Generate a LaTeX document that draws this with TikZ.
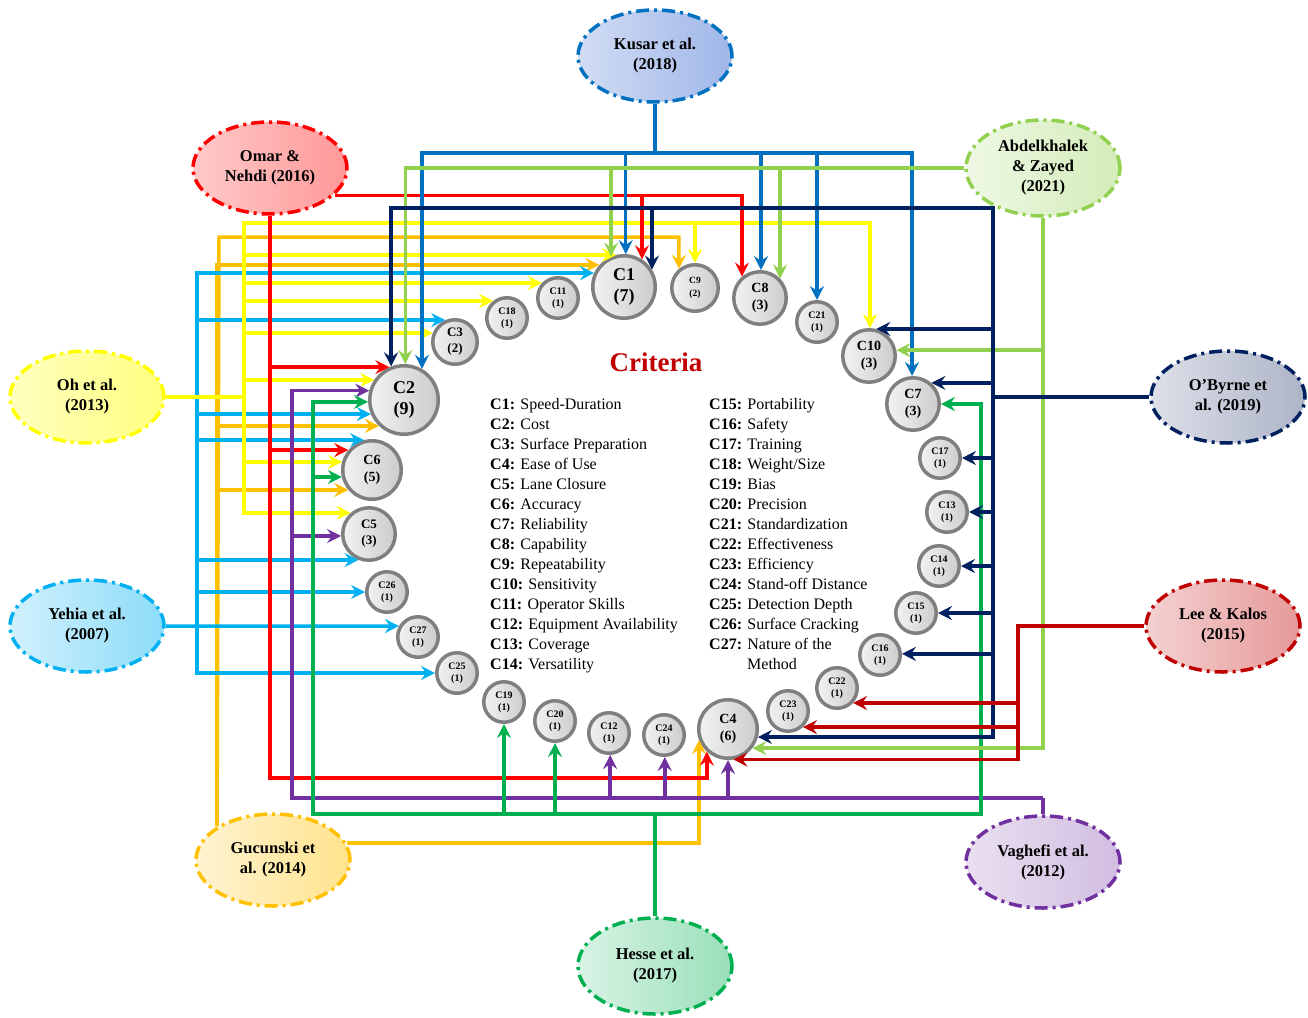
\documentclass[tikz,border=0pt]{standalone}
\usepackage{fontspec}
\setmainfont{Liberation Serif}
\usetikzlibrary{shapes.geometric,arrows.meta}
\definecolor{cOmar}{HTML}{FF0000}
\definecolor{cLee}{HTML}{C00000}
\definecolor{cKus}{HTML}{0070C0}
\definecolor{cYeh}{HTML}{00B0F0}
\definecolor{cOB}{HTML}{002060}
\definecolor{cAbd}{HTML}{92D050}
\definecolor{cHes}{HTML}{00B050}
\definecolor{cOh}{HTML}{FFFF00}
\definecolor{cGuc}{HTML}{FFC000}
\definecolor{cVag}{HTML}{7030A0}
\definecolor{cCrit}{HTML}{C00000}
\definecolor{cRing}{HTML}{7F7F7F}
\definecolor{fKusA}{HTML}{D2DDF4}
\definecolor{fKusB}{HTML}{9FB6E8}
\definecolor{fOBA}{HTML}{DDE0E9}
\definecolor{fOBB}{HTML}{AEB4C7}
\definecolor{fOmA}{HTML}{FFCACA}
\definecolor{fOmB}{HTML}{FF9898}
\begin{document}
\begin{tikzpicture}[x=1pt, y=-1pt,
  ln/.style={line width=3.5pt},
  ar/.style={ln, -{Stealth[length=14pt,width=14pt,inset=5pt]}},
  lowtext/.style={execute at begin node={\rule{0pt}{1.1em}}},
  refn/.style={ellipse, minimum width=154pt, minimum height=92pt, inner sep=0pt,
    line width=3.5pt, dash pattern=on 13pt off 5pt on 3pt off 5pt, align=center,
    font=\fontsize{16.5}{20}\selectfont\bfseries, lowtext},
  crit/.style={circle, draw=cRing, line width=3.5pt, left color=black!5, right color=black!20,
    inner sep=0pt, align=center, lowtext},
  sm/.style={crit, minimum size=40.5pt, font=\fontsize{10}{12.5}\selectfont\bfseries},
  md/.style={crit, minimum size=52.5pt, font=\fontsize{14}{17}\selectfont\bfseries},
  lg/.style={crit, minimum size=58.5pt, font=\fontsize{14}{17}\selectfont\bfseries},
  xl/.style={crit, font=\fontsize{18}{21}\selectfont\bfseries},
  leg/.style={inner sep=0pt, anchor=base west, font=\fontsize{16}{20}\selectfont},
  omarA/.style={ar, draw=cOmar},
  leeA/.style={ar, draw=cLee},
  kusA/.style={ar, draw=cKus},
  yehA/.style={ar, draw=cYeh},
  obA/.style={ar, draw=cOB},
  abdA/.style={ar, draw=cAbd},
  hesA/.style={ar, draw=cHes},
  ohA/.style={ar, draw=cOh},
  gucA/.style={ar, draw=cGuc},
  vagA/.style={ar, draw=cVag}
]
\fill[white] (0,0) rectangle (1308,1017);
\useasboundingbox (0,0) rectangle (1308,1017);

% reference ellipses
\node[refn, draw=cKus, left color=fKusA, right color=fKusB] (kusar) at (655,56) {Kusar et al.\\(2018)};
\node[refn, draw=cOmar, left color=fOmA, right color=fOmB] (omar) at (270,168) {Omar \&\\Nehdi (2016)};
\node[refn, draw=cAbd, minimum height=96pt, left color=cAbd!15!white, right color=cAbd!40!white] (abd) at (1043,168) {Abdelkhalek\\\& Zayed\\(2021)};
\node[refn, draw=cOh, left color=yellow!25!white, right color=yellow!50!white] (oh) at (87,397) {Oh et al.\\(2013)};
\node[refn, draw=cOB, left color=fOBA, right color=fOBB] (obyrne) at (1228,397) {O’Byrne et\\al. (2019)};
\node[refn, draw=cYeh, left color=cYeh!18!white, right color=cYeh!45!white] (yehia) at (87,626) {Yehia et al.\\(2007)};
\node[refn, draw=cLee, left color=cLee!18!white, right color=cLee!40!white] (lee) at (1223,626) {Lee \& Kalos\\(2015)};
\node[refn, draw=cGuc, left color=cGuc!18!white, right color=cGuc!45!white] (guc) at (273,860) {Gucunski et\\al. (2014)};
\node[refn, draw=cHes, minimum height=96pt, left color=cHes!15!white, right color=cHes!40!white] (hesse) at (655,966) {Hesse et al.\\(2017)};
\node[refn, draw=cVag, left color=cVag!15!white, right color=cVag!32!white] (vag) at (1043,862) {Vaghefi et al.\\(2012)};

% criteria circles
\node[xl, minimum size=62.5pt] (C1) at (624,287) {C1\\(7)};
\node[xl, minimum size=68.5pt] (C2) at (404,400) {C2\\(9)};
\node[crit, minimum size=44.5pt, font=\fontsize{13}{16}\selectfont\bfseries] (C3) at (455,342) {C3\\(2)};
\node[lg] (C4) at (728,729) {C4\\(6)};
\node[md, font=\fontsize{13}{16}\selectfont\bfseries] (C5) at (369,534) {C5\\(3)};
\node[lg] (C6) at (372,470) {C6\\(5)};
\node[md] (C7) at (913,404) {C7\\(3)};
\node[md] (C8) at (760,298) {C8\\(3)};
\node[crit, minimum size=46.5pt, font=\fontsize{9.5}{12.5}\selectfont\bfseries] (C9) at (695,288) {C9\\(2)};
\node[md] (C10) at (869,356) {C10\\(3)};
\node[sm] (C11) at (558,298) {C11\\(1)};
\node[sm] (C12) at (609,733) {C12\\(1)};
\node[sm] (C13) at (947,512) {C13\\(1)};
\node[sm] (C14) at (939,566) {C14\\(1)};
\node[sm] (C15) at (916,613) {C15\\(1)};
\node[sm] (C16) at (880,655) {C16\\(1)};
\node[sm] (C17) at (940,458) {C17\\(1)};
\node[sm] (C18) at (507,318) {C18\\(1)};
\node[sm] (C19) at (504,702) {C19\\(1)};
\node[sm] (C20) at (555,721) {C20\\(1)};
\node[sm] (C21) at (817,322) {C21\\(1)};
\node[sm] (C22) at (837,688) {C22\\(1)};
\node[sm] (C23) at (788,711) {C23\\(1)};
\node[sm] (C24) at (664,735) {C24\\(1)};
\node[sm] (C25) at (457,673) {C25\\(1)};
\node[sm] (C26) at (387,592) {C26\\(1)};
\node[sm] (C27) at (418,637) {C27\\(1)};

% title and legend
\node[font=\fontsize{27}{30}\selectfont\bfseries, text=cCrit] (title) at (656,362) {Criteria};
\foreach \a/\b [count=\i] in {C1/Speed-Duration, C2/Cost, C3/Surface Preparation, C4/Ease of Use,
  C5/Lane Closure, C6/Accuracy, C7/Reliability, C8/Capability, C9/Repeatability, C10/Sensitivity,
  C11/Operator Skills, C12/Equipment Availability, C13/Coverage, C14/Versatility}
  \node[leg] (L\i) at (490,{409+20*(\i-1)}) {\textbf{\a:} \b};
\foreach \a/\b [count=\i] in {C15/Portability, C16/Safety, C17/Training, C18/{Weight/Size},
  C19/Bias, C20/Precision, C21/Standardization, C22/Effectiveness, C23/Efficiency,
  C24/Stand-off Distance, C25/Detection Depth, C26/Surface Cracking, C27/Nature of the}
  \node[leg] (R\i) at (709,{409+20*(\i-1)}) {\textbf{\a:} \b};
\node[leg] (R14) at (747,669) {Method};

% junction coordinates
\coordinate (kj) at (655,153);
\coordinate (oj) at (993,397);
\coordinate (ot) at (993,208);
\coordinate (hj) at (244,397);
\coordinate (ht) at (244,223);
\coordinate (gt) at (219,237);
\coordinate (yj) at (197,626);
\coordinate (ob) at (270,778);
\coordinate (hsj) at (655,814);
\coordinate (hsl) at (313,814);
\coordinate (hsr) at (981,814);
\coordinate (vj) at (1043,798);
\coordinate (vl) at (292,798);
\coordinate (lj) at (1018,626);

% Gucunski (orange)
\draw[gucA] (guc.149) -- (gt) -| (C9.130);
\draw[gucA] (guc.149) |- (C1.138);
\draw[gucA] (guc.149) |- (C2.226);
\draw[gucA] (guc.149) |- (C6.220);
\draw[gucA] (guc.13) -| (C4.-159);

% Yehia (light blue)
\draw[yehA] (yehia.east) -- (C27.150);
\draw[yehA] (yj) |- (C1.155);
\draw[yehA] (yj) |- (C3.114);
\draw[yehA] (yj) |- (C2.203);
\draw[yehA] (yj) |- (C6.105);
\draw[yehA] (yj) |- (C5.248);
\draw[yehA] (yj) |- (C26.180);
\draw[yehA] (yj) |- (C25.180);

% Oh (yellow)
\draw[ln, draw=cOh] (oh.east) -- (hj);
\draw[ohA] (hj) -- (ht) -| (C10.88);
\draw[ohA] (ht) -| (C9.90);
\draw[ohA] (hj) |- (C1.104);
\draw[ohA] (hj) |- (C11.137);
\draw[ohA] (hj) |- (C18.129);
\draw[ohA] (hj) |- (C3.158);
\draw[ohA] (hj) |- (C2.146);
\draw[ohA] (hj) |- (C6.165);
\draw[ohA] (hj) |- (C5.131);

% Omar (red)
\draw[omarA] (omar.-23) -| (C1.57);
\draw[omarA] (omar.-23) -| (C8.130);
\draw[omarA] (omar.south) |- (C2.114);
\draw[omarA] (omar.south) |- (C6.140);
\draw[omarA] (omar.south) -- (ob) -| (C4.-133);

% Vaghefi (purple)
\draw[ln, draw=cVag] (vag.north) -- (vj);
\draw[vagA] (vj) -| (C4.-90);
\draw[vagA] (vj) -| (C24.-88);
\draw[vagA] (vj) -| (C12.-87);
\draw[vagA] (vj) -- (vl) |- (C2.165);
\draw[vagA] (vl) |- (C5.184);

% Hesse (green)
\draw[ln, draw=cHes] (hesse.north) -- (hsj);
\draw[hesA] (hsj) -- (hsl) |- (C2.183);
\draw[hesA] (hsl) |- (C6.193);
\draw[hesA] (hsj) -| (C19.-90);
\draw[hesA] (hsj) -| (C20.-90);
\draw[hesA] (hsj) -- (hsr) |- (C7.0);

% Kusar (blue)
\draw[ln, draw=cKus] (kusar.south) -- (kj);
\draw[kusA] (kj) -| (C2.60);
\draw[kusA] (kj) -| (C1.87);
\draw[kusA] (kj) -| (C8.88);
\draw[kusA] (kj) -| (C21.90);
\draw[kusA] (kj) -| (C7.92);

% Abdelkhalek (light green)
\draw[abdA] (abd.west) -| (C2.88);
\draw[abdA] (abd.west) -| (C1.113);
\draw[abdA] (abd.west) -| (C8.44);
\draw[abdA] (abd.south) |- (C10.12);
\draw[abdA] (abd.south) |- (C4.-38);

% O'Byrne (navy)
\draw[ln, draw=cOB] (obyrne.west) -- (oj);
\draw[obA] (oj) -- (ot) -| (C2.111);
\draw[obA] (ot) -| (C1.32);
\draw[obA] (oj) |- (C10.75);
\draw[obA] (oj) |- (C7.49);
\draw[obA] (oj) |- (C17.0);
\draw[obA] (oj) |- (C13.0);
\draw[obA] (oj) |- (C14.0);
\draw[obA] (oj) |- (C15.0);
\draw[obA] (oj) |- (C16.3);
\draw[obA] (oj) |- (C4.-15);

% Lee & Kalos (dark red)
\draw[leeA] (lee.west) -- (lj) |- (C22.-43);
\draw[leeA] (lj) |- (C23.-47);
\draw[leeA] (lj) |- (C4.-80);
\end{tikzpicture}
\end{document}
